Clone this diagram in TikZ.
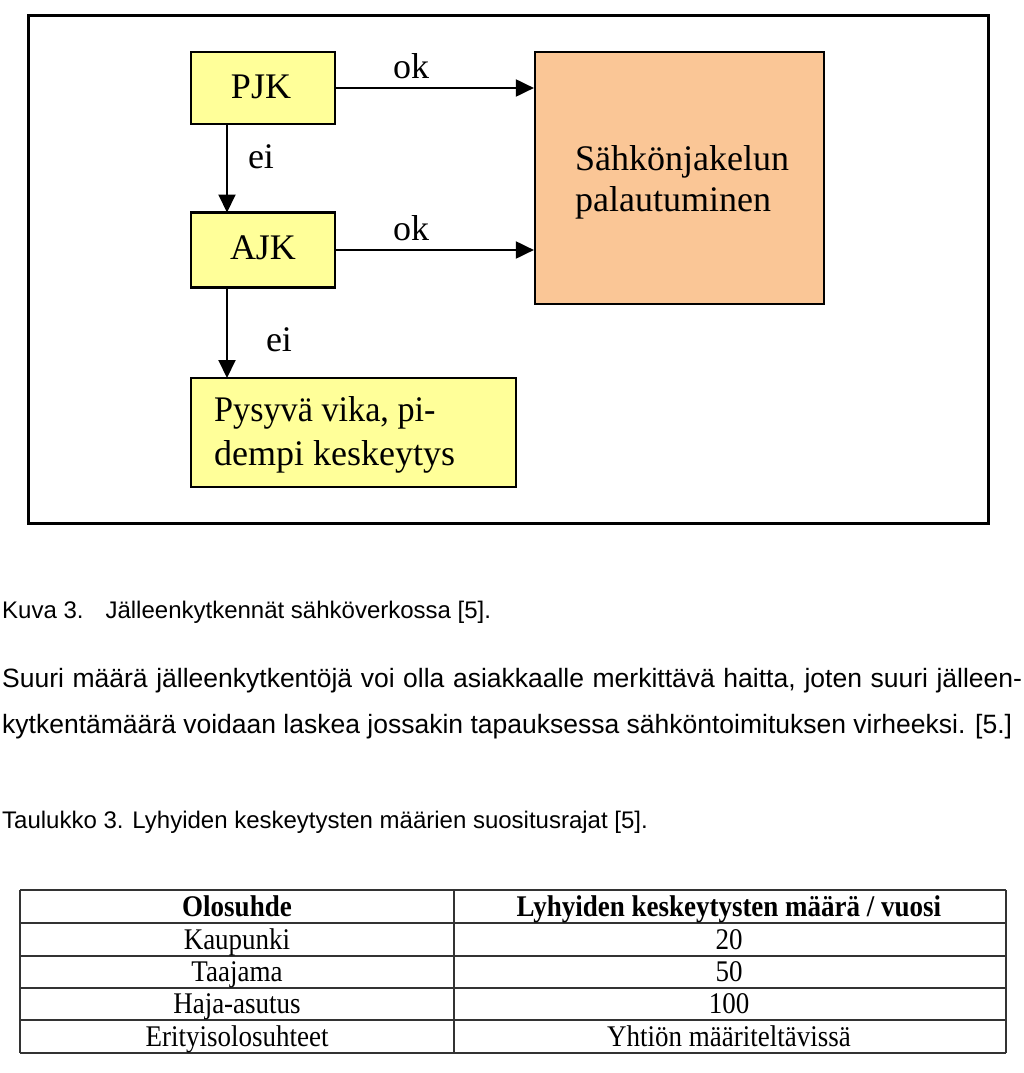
\documentclass[tikz,border=0pt]{standalone}
\usepackage{fontspec}
\usepackage{graphicx}
\setmainfont{Liberation Serif}
\newfontfamily\arialf{Liberation Sans}
\usetikzlibrary{arrows.meta}
\definecolor{yellowfill}{HTML}{FFFF99}
\definecolor{peach}{HTML}{FAC696}
\begin{document}
\begin{tikzpicture}[x=1pt,y=-1pt,
  boxst/.style={draw=black,line width=2.2pt,inner sep=0pt},
  lbl/.style={font=\fontsize{36}{40}\selectfont,inner sep=0pt,anchor=base},
  lblw/.style={font=\fontsize{36}{40}\selectfont,inner sep=0pt,anchor=base west},
  arr/.style={line width=2pt,-{Triangle[length=18pt,width=17pt]}},
  captxt/.style={font=\arialf\fontsize{24}{28}\selectfont,anchor=base west,inner sep=0pt},
  partxt/.style={font=\arialf\fontsize{26.5}{30}\selectfont,anchor=base west,inner sep=0pt},
  cell/.style={font=\fontsize{30}{34}\selectfont,inner sep=0pt,anchor=base},
  hcell/.style={font=\bfseries\fontsize{30}{34}\selectfont,inner sep=0pt,anchor=base},
  tline/.style={line width=1.2pt,draw=black!80}]
\useasboundingbox (0,0) rectangle (1024,1073);
\fill[white] (0,0) rectangle (1024,1073);
% frame
\node[draw=black,line width=3pt,minimum width=960pt,minimum height=507pt,inner sep=0pt] (frame) at (508,269.5) {};
% boxes
\node[boxst,fill=yellowfill,minimum width=144pt,minimum height=72pt] (pjk) at (263,88) {};
\node[lbl] (pjkt) at (261,98) {PJK};
\node[boxst,fill=yellowfill,minimum width=144pt,minimum height=75pt] (ajk) at (263,250) {};
\node[lbl] (ajkt) at (263,259) {AJK};
\node[boxst,fill=peach,minimum width=289pt,minimum height=252pt] (sah) at (679.5,178) {};
\node[lblw] (s1) at (575,170) {Sähkönjakelun};
\node[lblw] (s2) at (575,211) {palautuminen};
\node[boxst,fill=yellowfill,minimum width=325pt,minimum height=109pt] (pys) at (353.5,432.5) {};
\node[lblw] (y1) at (214,421) {\scalebox{0.95}[1]{Pysyvä vika, pi-}};
\node[lblw] (y2) at (214,465) {dempi keskeytys};
% arrows
\draw[arr] (pjk.east) -- (pjk.east -| sah.west);
\node[lbl] (ok1) at (411,78) {ok};
\draw[arr] (ajk.east) -- (ajk.east -| sah.west);
\node[lbl] (ok2) at (411,240) {ok};
\coordinate (pjkb) at (227,124);
\coordinate (ajktop) at (227,212.5);
\coordinate (ajkb) at (227,287.5);
\coordinate (pystop) at (227,378);
\draw[arr] (pjkb) -- (ajktop);
\node[lbl] (ei1) at (261,168) {ei};
\draw[arr] (ajkb) -- (pystop);
\node[lbl] (ei2) at (279,351) {ei};
% caption and paragraph
\node[captxt] (kuva) at (2,618) {Kuva 3.\hspace{22pt}Jälleenkytkennät sähköverkossa [5].};
\node[partxt] (p1) at (2,687) {\hbox to 1020pt{Suuri määrä jälleenkytkentöjä voi olla asiakkaalle merkittävä haitta, joten suuri jälleen-}};
\node[partxt] (p2) at (2,733) {kytkentämäärä voidaan laskea jossakin tapauksessa sähköntoimituksen virheeksi. [5.]};
\node[captxt] (taul) at (2,828) {Taulukko 3. Lyhyiden keskeytysten määrien suositusrajat [5].};
% table
\draw[tline] (20,890) -- (1006,890);
\draw[tline] (20,923) -- (1006,923);
\draw[tline] (20,956) -- (1006,956);
\draw[tline] (20,988) -- (1006,988);
\draw[tline] (20,1020) -- (1006,1020);
\draw[tline] (20,1053) -- (1006,1053);
\draw[tline] (20,890) -- (20,1053);
\draw[tline] (454,890) -- (454,1053);
\draw[tline] (1006,890) -- (1006,1053);
\node[hcell] (h1) at (237,916) {\scalebox{0.9}[1]{Olosuhde}};
\node[hcell] (h2) at (729,916) {\scalebox{0.9}[1]{Lyhyiden keskeytysten määrä / vuosi}};
\node[cell] (r1a) at (237,949) {\scalebox{0.9}[1]{Kaupunki}};
\node[cell] (r1b) at (729,949) {\scalebox{0.9}[1]{20}};
\node[cell] (r2a) at (237,981) {\scalebox{0.9}[1]{Taajama}};
\node[cell] (r2b) at (729,981) {\scalebox{0.9}[1]{50}};
\node[cell] (r3a) at (237,1013) {\scalebox{0.9}[1]{Haja-asutus}};
\node[cell] (r3b) at (729,1013) {\scalebox{0.9}[1]{100}};
\node[cell] (r4a) at (237,1046) {\scalebox{0.9}[1]{Erityisolosuhteet}};
\node[cell] (r4b) at (729,1046) {\scalebox{0.9}[1]{Yhtiön määriteltävissä}};
\end{tikzpicture}
\end{document}
